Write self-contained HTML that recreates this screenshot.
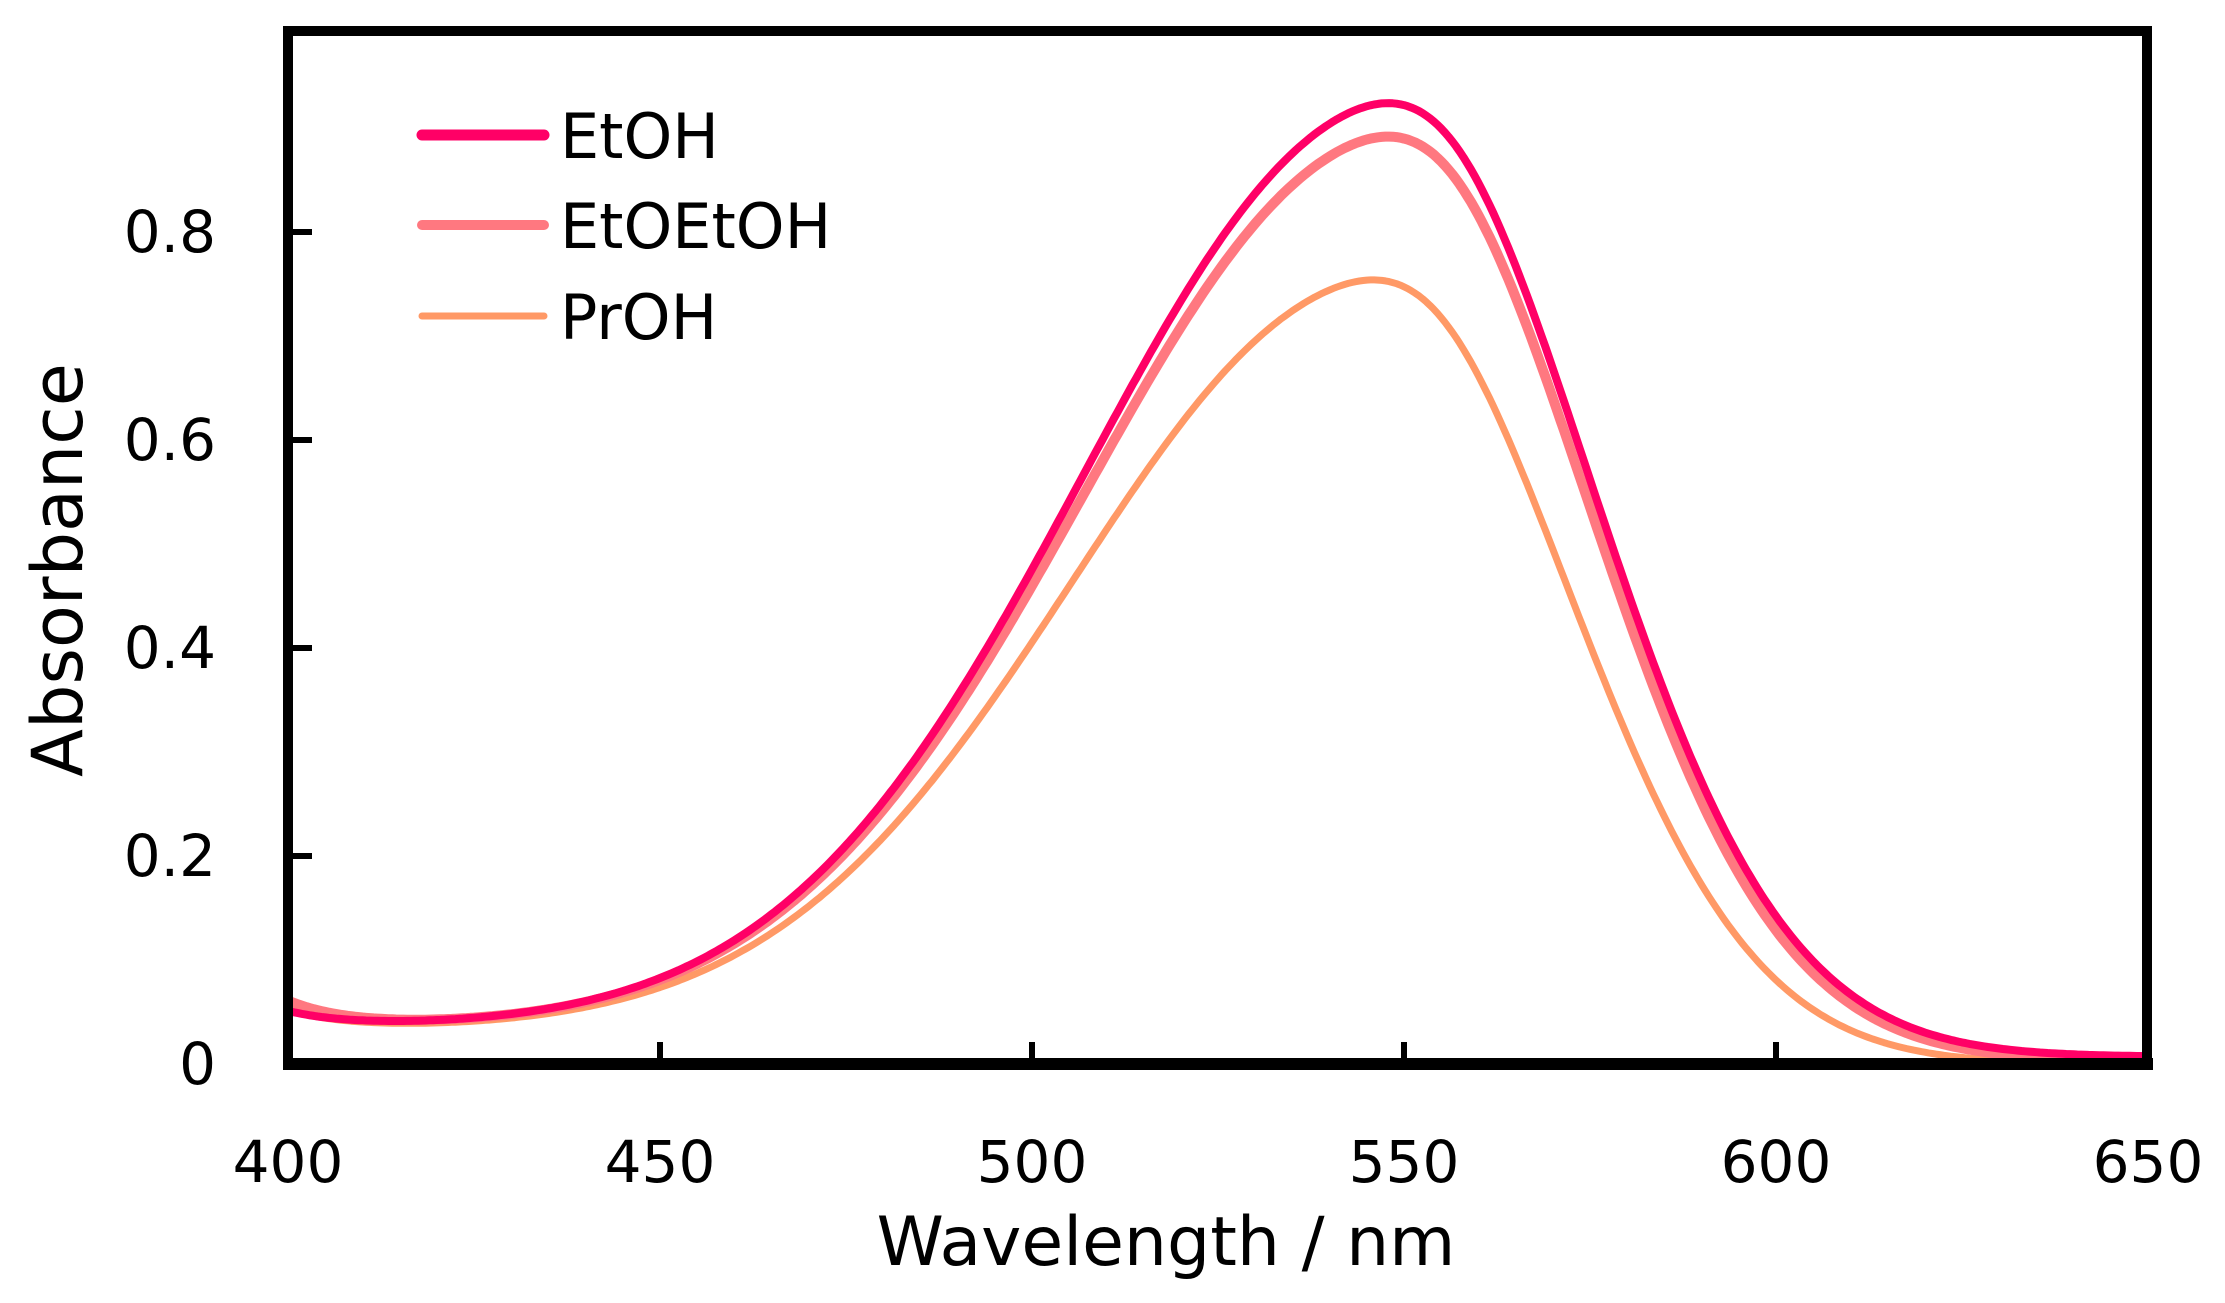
<!DOCTYPE html>
<html><head><meta charset="utf-8"><style>
html,body{margin:0;padding:0;background:#fff;}
svg{display:block;}
text{font-family:"DejaVu Sans","Liberation Sans",sans-serif;fill:#000;}
</style></head><body>
<svg id="s" width="2225" height="1303" viewBox="0 0 2225 1303" xmlns="http://www.w3.org/2000/svg">
<rect width="2225" height="1303" fill="#fff"/>
<g id="curves"></g>
<rect x="288" y="31" width="1859" height="1033" fill="none" stroke="#000" stroke-width="10"/>
<line x1="283" y1="1064" x2="2153" y2="1064" stroke="#000" stroke-width="12"/>
<g stroke="#000" stroke-width="6">
<line x1="288" y1="232" x2="312" y2="232"/>
<line x1="288" y1="440" x2="312" y2="440"/>
<line x1="288" y1="648" x2="312" y2="648"/>
<line x1="288" y1="856" x2="312" y2="856"/>
<line x1="660" y1="1064" x2="660" y2="1042"/>
<line x1="1032" y1="1064" x2="1032" y2="1042"/>
<line x1="1404" y1="1064" x2="1404" y2="1042"/>
<line x1="1776" y1="1064" x2="1776" y2="1042"/>
</g>
<g font-size="58" text-anchor="end">
<text x="216" y="252">0.8</text>
<text x="216" y="460">0.6</text>
<text x="216" y="668">0.4</text>
<text x="216" y="876">0.2</text>
<text x="216" y="1084">0</text>
</g>
<g font-size="58" text-anchor="middle" style="font-family:'Liberation Sans',sans-serif">
<text x="288" y="1182">400</text>
<text x="660" y="1182">450</text>
<text x="1032" y="1182">500</text>
<text x="1404" y="1182">550</text>
<text x="1776" y="1182">600</text>
<text x="2148" y="1182">650</text>
<text x="1166" y="1265" font-size="68">Wavelength / nm</text>
<text transform="translate(82,570) rotate(-90)" font-size="70">Absorbance</text>
</g>
<g stroke-linecap="round">
<line x1="422" y1="135" x2="544" y2="135" stroke="#FF0066" stroke-width="11"/>
<line x1="422" y1="225" x2="544" y2="225" stroke="#FF7880" stroke-width="10"/>
<line x1="422" y1="316" x2="544" y2="316" stroke="#FF9966" stroke-width="7"/>
</g>
<g font-size="62" style="font-family:'Liberation Sans',sans-serif">
<text x="560" y="158">EtOH</text>
<text x="560" y="248">EtOEtOH</text>
<text x="560" y="339">PrOH</text>
</g>
</svg>
<script>
function X(w){return 288+(w-400)*372/50;}
function Y(a){return 1064-a*1040;}
function f(x,A,p,sl,sr,b0,bend,r0){
  var t=1/(1+Math.exp(-(x-p)/7));
  var s=sl+(sr-sl)*t;
  var g=A*Math.exp(-(x-p)*(x-p)/(2*s*s));
  var b=bend+(b0-bend)/(1+Math.exp((x-580)/10));
  var r=r0*Math.exp(-(x-400)/8);
  return g+b+r;
}
var series=[
 {c:"#FF9966",w:7,A:0.722,p:546,sl:40,sr:25.5,b0:0.033,be:0.0,r0:0.018},
 {c:"#FF7880",w:10,A:0.858,p:548,sl:40.5,sr:26.3,b0:0.035,be:0.003,r0:0.025},
 {c:"#FF0066",w:8,A:0.89,p:548,sl:40.5,sr:26.6,b0:0.035,be:0.007,r0:0.015}
];
var g=document.getElementById("curves"),ns="http://www.w3.org/2000/svg";
series.forEach(function(s){
 var d="";
 for(var x=400;x<=650;x+=0.5){
  var v=f(x,s.A,s.p,s.sl,s.sr,s.b0,s.be,s.r0);
  d+=(x==400?"M":"L")+X(x).toFixed(1)+","+Y(v).toFixed(1);
 }
 var pth=document.createElementNS(ns,"path");
 pth.setAttribute("d",d);pth.setAttribute("fill","none");
 pth.setAttribute("stroke",s.c);pth.setAttribute("stroke-width",s.w);
 pth.setAttribute("stroke-linejoin","round");
 g.appendChild(pth);
});
</script>
</body></html>
